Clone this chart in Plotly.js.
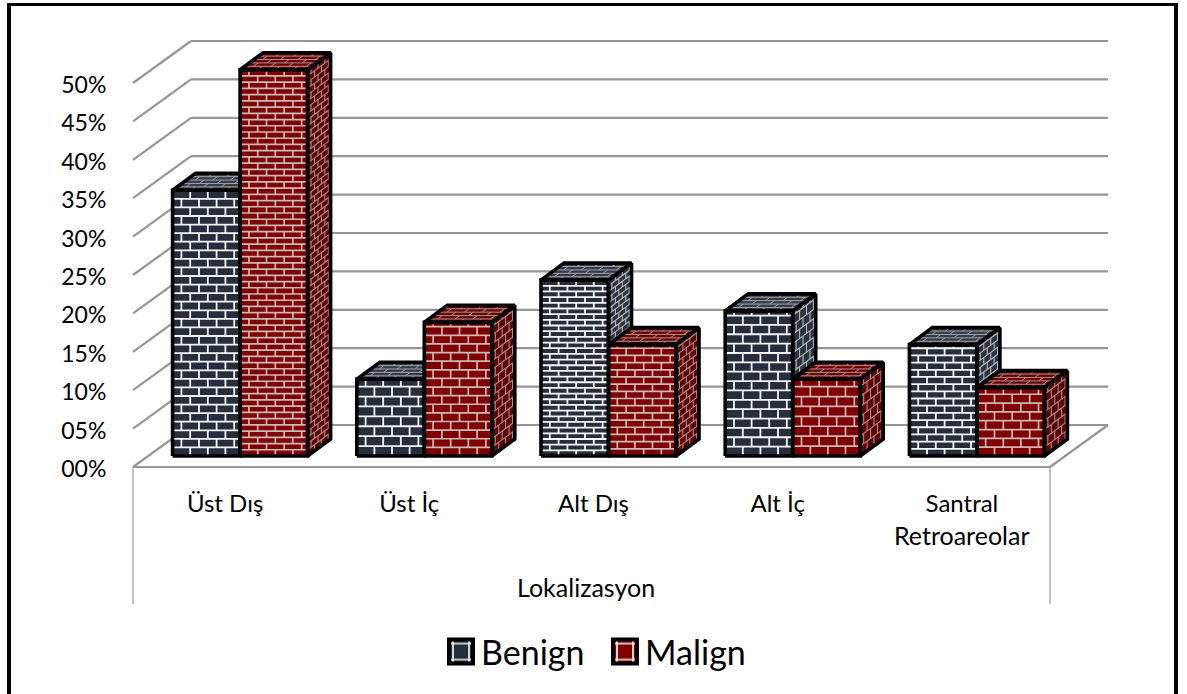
<!DOCTYPE html>
<html>
<head>
<meta charset="utf-8">
<script src="https://cdn.plot.ly/plotly-3.0.1.min.js"></script>
<style>
  html, body { margin: 0; padding: 0; background: #fff; overflow: hidden; }
  #chart { position: absolute; left: 0; top: 0; width: 1187px; height: 694px; }
  #frame { position: absolute; left: 7px; top: 3px; width: 1163px; height: 700px;
           border: solid #000; border-width: 3px 4px 0 4px; pointer-events: none; }
</style>
</head>
<body>
<div id="chart"></div>
<div id="frame"></div>
<script>
// Breast lesion localisation by diagnosis, drawn as pseudo-3D brick columns.
const categories = ['Üst Dış', 'Üst İç', 'Alt Dış', 'Alt İç', 'Santral'];
const categoryLine2 = 'Retroareolar';
const axisTitle = 'Lokalizasyon';
const benign = [34.6, 10.0, 22.9, 18.9, 14.5];
const malign = [50.3, 17.4, 14.5, 10.0, 8.9];
const yTicks = [0, 5, 10, 15, 20, 25, 30, 35, 40, 45, 50];
const yTickLabels = ['00%', '05%', '10%', '15%', '20%', '25%', '30%', '35%', '40%', '45%', '50%'];

// Plot scale
const W = 1187, H = 694;
const pxCat = 184.2, pxVal = 7.68;
const plotL = 128, plotR = 1113, plotT = 34, plotB = 471;
const x0Px = 133, y0Px = 467;              // front floor corner
const xOfPx = p => -0.5 + (p - x0Px) / pxCat;
const xRange = [xOfPx(plotL), xOfPx(plotR)];
const yRange = [(y0Px - plotB) / pxVal, (y0Px - plotT) / pxVal];
const paperY = p => (plotB - p) / (plotB - plotT);
const floorLeft = xOfPx(133), floorRight = xOfPx(1050);

// Projection of depth onto the page, in data units
const wallDx = 58 / pxCat, wallDy = 42 / pxVal;
const barDx = 23 / pxCat, barDy = 17 / pxVal;
const floorX = 15 / pxCat, floorY = 11 / pxVal;
const barW = 67.5 / pxCat;

// Brick module: the course height follows the column height, the brick width does not
const brickW = 17.6 / pxCat;
const sideBrick = 0.3, topRow = 0.2;
function courseHeight(v) {
  let n = 7.75;
  while (v * pxVal / n > 11.3) n *= 2;
  return v / n;
}

function seg(store, ax, ay, bx, by, clipX) {
  if (clipX !== undefined) {
    if (ax >= clipX && bx >= clipX) return;
    if (bx > clipX) { by = ay + (by - ay) * (clipX - ax) / (bx - ax); bx = clipX; }
    if (ax > clipX) { ay = by + (ay - by) * (clipX - bx) / (ax - bx); ax = clipX; }
  }
  store.x.push(ax, bx, null);
  store.y.push(ay, by, null);
}
const store = () => ({ x: [], y: [] });
function poly(s, pts) {
  pts.forEach(p => { s.x.push(p[0]); s.y.push(p[1]); });
  s.x.push(pts[0][0], null); s.y.push(pts[0][1], null);
}

function frontBricks(s, xa, xb, ya, yb, rowH) {
  const rows = Math.ceil((yb - ya) / rowH - 1e-6);
  for (let k = 0; k < rows; k++) {
    const y = ya + k * rowH, yn = Math.min(y + rowH, yb);
    if (k > 0) seg(s, xa, y, xb, y);
    for (let x = xa + (k % 2 ? brickW / 2 : brickW); x < xb; x += brickW) seg(s, x, y, x, yn);
  }
}
function sideBricks(s, xr, ya, yb, rowH) {
  const rows = Math.ceil((yb - floorY) / rowH - 1e-6);
  for (let k = 0; k < rows; k++) {
    const h = floorY + k * rowH, hn = Math.min(h + rowH, yb);
    if (hn <= ya) continue;
    const lo = Math.max(h, ya);
    if (h >= ya) seg(s, xr, h, xr + barDx, h + barDy);
    for (let u = k % 2 ? sideBrick / 2 : sideBrick; u < 1; u += sideBrick) {
      seg(s, xr + u * barDx, lo + u * barDy, xr + u * barDx, hn + u * barDy);
    }
  }
}
function topBricks(s, xa, xb, y, clipX) {
  for (let k = 0; k < 1 / topRow; k++) {
    const u = k * topRow, un = u + topRow;
    if (k > 0) seg(s, xa + u * barDx, y + u * barDy, xb + u * barDx, y + u * barDy, clipX);
    for (let x = xa + (k % 2 ? brickW / 2 : brickW); x < xb; x += brickW) {
      seg(s, x + u * barDx, y + u * barDy, x + un * barDx, y + un * barDy, clipX);
    }
  }
}

const faces = {
  bFront: store(), mFront: store(), bSide: store(), mSide: store(), bTop: store(), mTop: store(),
  bSideFill: store(), mSideFill: store(), bTopFill: store(), mTopFill: store(), edges: store()
};
const benignX = [], malignX = [];
categories.forEach((c, i) => {
  const mid = i + floorX, xl = mid - barW, xr = mid + barW;
  benignX.push(mid - barW / 2); malignX.push(mid + barW / 2);
  const bt = benign[i] + floorY, mt = malign[i] + floorY;
  const bRow = courseHeight(benign[i]), mRow = courseHeight(malign[i]);
  const d = [barDx, barDy];

  // Benign column: its roof stops at the malign front when that one is taller,
  // its side wall only shows above the malign roof.
  frontBricks(faces.bFront, xl, mid, floorY, bt, bRow);
  if (mt > bt) {
    poly(faces.bTopFill, [[xl, bt], [mid, bt], [mid, bt + d[1]], [xl + d[0], bt + d[1]]]);
    topBricks(faces.bTop, xl, mid, bt, mid);
    poly(faces.edges, [[xl, bt], [mid, bt], [mid, bt + d[1]], [xl + d[0], bt + d[1]]]);
  } else {
    poly(faces.bTopFill, [[xl, bt], [mid, bt], [mid + d[0], bt + d[1]], [xl + d[0], bt + d[1]]]);
    topBricks(faces.bTop, xl, mid, bt);
    poly(faces.bSideFill, [[mid, mt], [mid, bt], [mid + d[0], bt + d[1]], [mid + d[0], mt + d[1]]]);
    sideBricks(faces.bSide, mid, mt, bt, bRow);
    poly(faces.edges, [[xl, bt], [mid, bt], [mid + d[0], bt + d[1]], [xl + d[0], bt + d[1]]]);
    poly(faces.edges, [[mid, mt], [mid, bt], [mid + d[0], bt + d[1]], [mid + d[0], mt + d[1]]]);
  }

  // Malign column
  frontBricks(faces.mFront, mid, xr, floorY, mt, mRow);
  poly(faces.mTopFill, [[mid, mt], [xr, mt], [xr + d[0], mt + d[1]], [mid + d[0], mt + d[1]]]);
  topBricks(faces.mTop, mid, xr, mt);
  poly(faces.mSideFill, [[xr, floorY], [xr, mt], [xr + d[0], mt + d[1]], [xr + d[0], floorY + d[1]]]);
  sideBricks(faces.mSide, xr, floorY, mt, mRow);

  poly(faces.edges, [[xl, floorY], [mid, floorY], [mid, bt], [xl, bt]]);
  poly(faces.edges, [[mid, floorY], [xr, floorY], [xr, mt], [mid, mt]]);
  poly(faces.edges, [[mid, mt], [xr, mt], [xr + d[0], mt + d[1]], [mid + d[0], mt + d[1]]]);
  poly(faces.edges, [[xr, floorY], [xr, mt], [xr + d[0], mt + d[1]], [xr + d[0], floorY + d[1]]]);
});

const DARK = '#252e3c', RED = '#7f0000';
const fillTrace = (s, color) => ({
  type: 'scatter', mode: 'lines', x: s.x, y: s.y, fill: 'toself', fillcolor: color,
  line: { width: 0 }, hoverinfo: 'skip', showlegend: false, connectgaps: false
});
const lineTrace = (s, color, width) => ({
  type: 'scatter', mode: 'lines', x: s.x, y: s.y,
  line: { color: color, width: width }, hoverinfo: 'skip', showlegend: false, connectgaps: false
});
const legendBar = (name, color) => ({
  type: 'bar', name: name, x: [null], y: [null],
  marker: { color: color, line: { color: '#000', width: 2 },
            pattern: { shape: '+', fgcolor: '#f2f2f2', bgcolor: color, size: 14, solidity: 0.2 } }
});

const traces = [
  { type: 'bar', x: benignX, y: benign, base: floorY, width: barW, marker: { color: DARK }, showlegend: false, name: 'Benign' },
  { type: 'bar', x: malignX, y: malign, base: floorY, width: barW, marker: { color: RED }, showlegend: false, name: 'Malign' },
  fillTrace(faces.bTopFill, '#353c49'),
  fillTrace(faces.bSideFill, '#2b333f'),
  fillTrace(faces.mTopFill, '#6a0505'),
  fillTrace(faces.mSideFill, '#5e0404'),
  lineTrace(faces.bFront, '#f6f6f6', 1.8),
  lineTrace(faces.mFront, '#cdb8b8', 1.7),
  lineTrace(faces.bTop, '#9fa2a8', 1),
  lineTrace(faces.bSide, '#b8babe', 1.1),
  lineTrace(faces.mTop, '#b08c8c', 1),
  lineTrace(faces.mSide, '#ab8a8a', 1.1),
  lineTrace(faces.edges, '#000', 3.6),
  legendBar('Benign', DARK),
  legendBar('Malign', RED)
];

// Back wall, side wall and floor of the box
const GRID = '#969696';
const gridLine = (x0, y0, x1, y1, w) => ({
  type: 'line', layer: 'below', xref: 'x', yref: 'y', x0, y0, x1, y1, line: { color: GRID, width: w || 2.2 }
});
const shapes = [];
const wallRight = floorRight + wallDx;
yTicks.forEach(v => {
  shapes.push(gridLine(floorLeft, v, floorLeft + wallDx, v + wallDy));
  shapes.push(gridLine(floorLeft + wallDx, v + wallDy, wallRight, v + wallDy));
});
shapes.push(gridLine(floorLeft, 0, floorRight, 0));
shapes.push(gridLine(floorRight, 0, wallRight, wallDy));
[floorLeft, floorRight].forEach(x => shapes.push({
  type: 'line', layer: 'below', xref: 'x', yref: 'paper', x0: x, x1: x,
  y0: paperY(467), y1: paperY(604), line: { color: '#b0b0b0', width: 1.5 }
}));

const FONT = 'Lato, "Open Sans", sans-serif';
const layout = {
  width: W, height: H, autosize: false,
  margin: { l: plotL, r: W - plotR, t: plotT, b: H - plotB, pad: 0 },
  paper_bgcolor: 'rgba(0,0,0,0)', plot_bgcolor: 'rgba(0,0,0,0)',
  barmode: 'overlay',
  font: { family: FONT, color: '#000' },
  xaxis: {
    type: 'linear', range: xRange, showgrid: false, zeroline: false, showline: false,
    tickmode: 'array', tickvals: categories.map((c, i) => i), ticktext: categories,
    ticks: 'outside', ticklen: 11, tickcolor: 'rgba(0,0,0,0)', tickfont: { family: FONT, size: 24 }
  },
  yaxis: {
    type: 'linear', range: yRange, showgrid: false, zeroline: false, showline: false,
    tickmode: 'array', tickvals: yTicks, ticktext: yTickLabels,
    ticks: 'outside', ticklen: 16, tickcolor: 'rgba(0,0,0,0)', tickfont: { family: FONT, size: 23 },
    ticklabelshift: 2
  },
  shapes: shapes,
  annotations: [
    { xref: 'x', yref: 'paper', x: 4, y: paperY(535), text: categoryLine2, showarrow: false,
      xanchor: 'center', yanchor: 'middle', font: { family: FONT, size: 25 } },
    { xref: 'x', yref: 'paper', x: xOfPx(586), y: paperY(587), text: axisTitle, showarrow: false,
      xanchor: 'center', yanchor: 'middle', font: { family: FONT, size: 25 } }
  ],
  legend: {
    orientation: 'h', xref: 'paper', yref: 'paper',
    x: (441 - plotL) / (plotR - plotL), xanchor: 'left',
    y: paperY(652), yanchor: 'middle',
    font: { family: FONT, size: 34 }, itemwidth: 30, bgcolor: 'rgba(0,0,0,0)',
    entrywidthmode: 'pixels', entrywidth: 119,
    itemclick: false, itemdoubleclick: false
  },
  showlegend: true
};

Plotly.newPlot('chart', traces, layout, { displayModeBar: false }).then(() => {
  // Enlarge the legend keys to the size of the text beside them
  document.querySelectorAll('.legend .legendbar path, .legend .legendpoints path').forEach(p => {
    const t = p.getAttribute('transform') || '';
    p.setAttribute('transform', t + ' scale(2)');
  });
});
</script>
</body>
</html>
